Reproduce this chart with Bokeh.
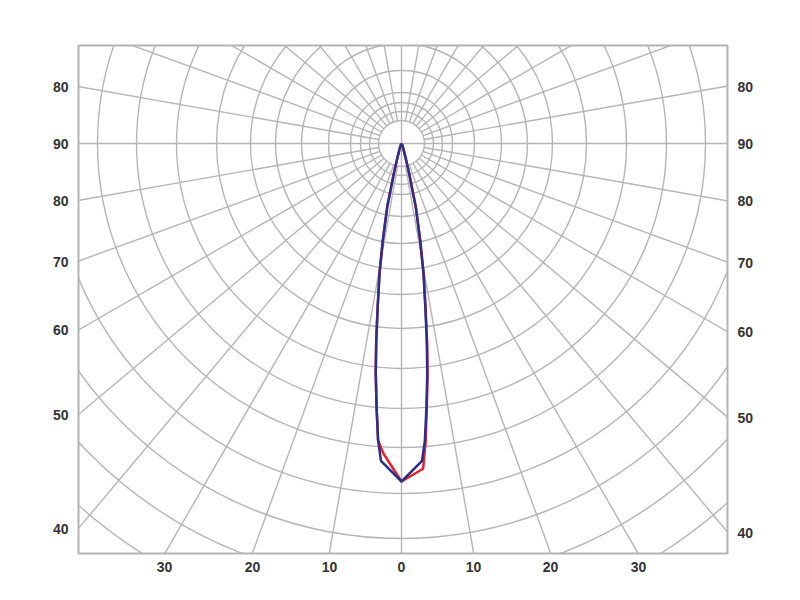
import numpy as np
from bokeh.plotting import figure
from bokeh.models import Range1d, LinearAxis, FixedTicker
from bokeh.embed import file_html
from bokeh.resources import INLINE

# ---- data (angles from nadir in degrees, intensity in chart radius units) ----
gamma = [0, 3.7, 4.5, 5.4, 6.4, 7.3, 8.3, 9.6, 10.9, 12.7, 14.3, 16, 20, 30, 90]
blue_I = [338, 318, 298, 265, 231, 199, 165, 132, 99, 65, 31, 15, 5, 1, 0]

red_gamma_left = [0, 3.4, 4.5, 5.4, 6.4, 7.3, 8.3, 9.6, 10.9, 12.7, 14.3, 16, 20, 30, 90]
red_I_left = [338, 310, 298, 265, 231, 199, 165, 132, 99, 65, 31, 15, 5, 1, 0]
red_gamma_right = [0, 3.8, 4.6, 5.4, 6.4, 7.3, 8.3, 9.6, 10.9, 12.7, 14.3, 16, 20, 30, 90]
red_I_right = [338, 326, 300, 268, 234, 202, 167, 133, 99, 65, 31, 15, 5, 1, 0]

# polar grid
grid_radii = [23, 32, 41, 51, 73, 100, 126, 151, 185, 225, 265, 304, 350, 395, 440, 485, 530]
spoke_angles = list(range(0, 360, 10))

# axis labels (angles from nadir)
side_gamma = [40, 50, 60, 70, 80, 90, 100]
side_labels = ["40", "50", "60", "70", "80", "90", "80"]
bottom_gamma = [-30, -20, -10, 0, 10, 20, 30]
bottom_labels = ["30", "20", "10", "0", "10", "20", "30"]

X0, X1 = -323, 326
Y0, Y1 = -410, 98

p = figure(width=788, height=598, output_backend="svg", toolbar_location=None,
           x_range=Range1d(X0, X1), y_range=Range1d(Y0, Y1),
           x_axis_location=None, y_axis_location=None,
           min_border_left=78, min_border_right=61, min_border_top=45, min_border_bottom=45)
p.xgrid.visible = False
p.ygrid.visible = False
p.background_fill_color = "white"
p.border_fill_color = "white"
p.outline_line_color = "#b3b3b3"
p.outline_line_width = 2

gc = "#b5b5b5"
# circles
n = len(grid_radii)
p.circle(x=[0] * n, y=[0] * n, radius=grid_radii, fill_color=None,
         line_color=gc, line_width=1.4)
# spokes
x0s, y0s, x1s, y1s = [], [], [], []
for a in spoke_angles:
    r0 = 0 if a % 90 == 0 else grid_radii[0]
    t = np.radians(a)
    x0s.append(r0 * np.sin(t)); y0s.append(-r0 * np.cos(t))
    x1s.append(800 * np.sin(t)); y1s.append(-800 * np.cos(t))
p.segment(x0s, y0s, x1s, y1s, line_color=gc, line_width=1.4)


def curve(gl, il, gr, ir):
    xs, ys = [], []
    for g, r in zip(gl[::-1], il[::-1]):
        t = np.radians(g)
        xs.append(-r * np.sin(t)); ys.append(-r * np.cos(t))
    for g, r in zip(gr[1:], ir[1:]):
        t = np.radians(g)
        xs.append(r * np.sin(t)); ys.append(-r * np.cos(t))
    return xs, ys


rx, ry = curve(red_gamma_left, red_I_left, red_gamma_right, red_I_right)
p.line(rx, ry, line_color="#e3232b", line_width=2.5)
bx, by = curve(gamma, blue_I, gamma, blue_I)
p.line(bx, by, line_color="#2b2f88", line_width=2.5)


def style(ax):
    ax.axis_line_color = None
    ax.major_tick_line_color = None
    ax.minor_tick_line_color = None
    ax.major_tick_out = 0
    ax.major_tick_in = 0
    ax.major_label_text_font = "Liberation Sans"
    ax.major_label_text_font_style = "bold"
    ax.major_label_text_font_size = "14px"
    ax.major_label_text_color = "#333333"
    ax.major_label_standoff = 10


left_ticks = [int(round(X0 / np.tan(np.radians(g)))) for g in side_gamma]
right_ticks = [int(round(-X1 / np.tan(np.radians(g)))) for g in side_gamma]
bottom_ticks = [int(round(-Y0 * np.tan(np.radians(g)))) for g in bottom_gamma]

la = LinearAxis(ticker=FixedTicker(ticks=left_ticks),
                major_label_overrides={t: s for t, s in zip(left_ticks, side_labels)})
ra = LinearAxis(ticker=FixedTicker(ticks=right_ticks),
                major_label_overrides={t: s for t, s in zip(right_ticks, side_labels)})
ba = LinearAxis(ticker=FixedTicker(ticks=bottom_ticks),
                major_label_overrides={t: s for t, s in zip(bottom_ticks, bottom_labels)})
for ax in (la, ra, ba):
    style(ax)
ba.major_label_standoff = 8
p.add_layout(la, "left")
p.add_layout(ra, "right")
p.add_layout(ba, "below")

open("out.html", "w").write(file_html(p, INLINE))
